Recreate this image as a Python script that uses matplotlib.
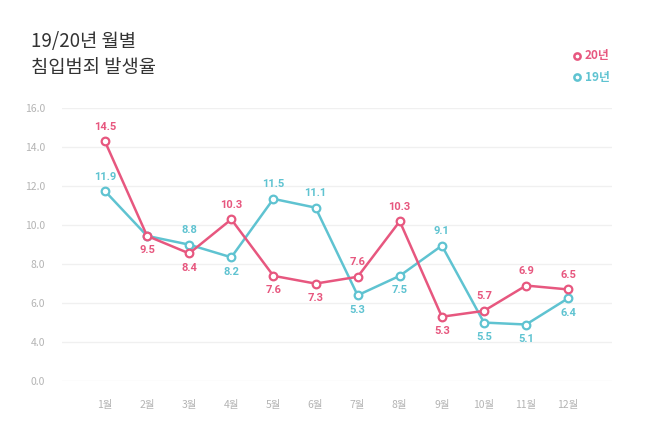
import numpy as np
import matplotlib
matplotlib.use("Agg")
from matplotlib import pyplot as plt

plt.rcParams['font.family'] = ['Noto Sans CJK KR', 'DejaVu Sans']

months = ['1월', '2월', '3월', '4월', '5월', '6월', '7월', '8월', '9월', '10월', '11월', '12월']

# point positions as drawn on the chart
rate_20 = [14.3, 9.45, 8.55, 10.3, 7.4, 7.0, 7.35, 10.2, 5.3, 5.6, 6.9, 6.7]
rate_19 = [11.75, 9.45, 9.0, 8.35, 11.35, 10.9, 6.4, 7.4, 8.95, 5.0, 4.9, 6.25]

# value labels as printed (None = not shown)
label_20 = ['14.5', '9.5', '8.4', '10.3', '7.6', '7.3', '7.6', '10.3', '5.3', '5.7', '6.9', '6.5']
label_19 = ['11.9', None, '8.8', '8.2', '11.5', '11.1', '5.3', '7.5', '9.1', '5.5', '5.1', '6.4']
side_20 = [1, -1, -1, 1, -1, -1, 1, 1, -1, 1, 1, 1]
side_19 = [1, 0, 1, -1, 1, 1, -1, -1, 1, -1, -1, -1]

y_ticks = [0, 4, 6, 8, 10, 12, 14, 16]

PINK = '#e7577f'
TEAL = '#5fc3d1'
GRAY = '#b4b4b4'

steps = np.arange(len(y_ticks), dtype=float)


def fwd(v):
    return np.interp(v, y_ticks, steps)


def inv(p):
    return np.interp(p, steps, y_ticks)


fig = plt.figure(figsize=(6.55, 4.23), dpi=100)
ax = fig.add_axes([62 / 655, 42 / 423, 550 / 655, 272.7 / 423])
ax.set_yscale('function', functions=(fwd, inv))
ax.set_ylim(0, 16)
ax.set_xlim(-1.02, 12.04)

x = np.arange(len(months))
for vals, labels, sides, col, z in [(rate_19, label_19, side_19, TEAL, 3),
                                      (rate_20, label_20, side_20, PINK, 4)]:
    ax.plot(x, vals, color=col, lw=1.8, marker='o', ms=5.5, mfc='white',
            mec=col, mew=1.6, zorder=z, clip_on=False)
    for xi, v, lab, s in zip(x, vals, labels, sides):
        if lab is None:
            continue
        ax.annotate(lab, (xi, v), xytext=(0, 10.5 * s), textcoords='offset points',
                    ha='center', va='center', color=col, fontsize=8,
                    fontweight='bold', family=['Roboto', 'DejaVu Sans'])

ax.set_yticks(y_ticks)
ax.set_yticklabels(['%.1f' % t for t in y_ticks])
ax.set_xticks(x)
ax.set_xticklabels(months)
ax.grid(axis='y', color='#f0f0f0', lw=1)
ax.set_axisbelow(True)
ax.tick_params(length=0, colors=GRAY, labelsize=7.5)
ax.tick_params(axis='y', pad=12)
ax.tick_params(axis='x', pad=14)
for sp in ax.spines.values():
    sp.set_visible(False)

fig.text(31 / 655, 1 - 42 / 423, '19/20년 월별', fontsize=13.5, color='#333333', va='center')
fig.text(31 / 655, 1 - 67 / 423, '침입범죄 발생율', fontsize=13.5, color='#333333', va='center')

for yy, name, col in [(56, '20년', PINK), (77, '19년', TEAL)]:
    fig.lines.append(plt.Line2D([577 / 655], [1 - yy / 423], transform=fig.transFigure,
                                marker='o', ms=4.5, mfc='white', mec=col, mew=1.8))
    fig.text(585 / 655, 1 - yy / 423, name, fontsize=8.5, color=col, va='center',
             fontweight='bold')

fig.savefig('out.png', dpi=100)
